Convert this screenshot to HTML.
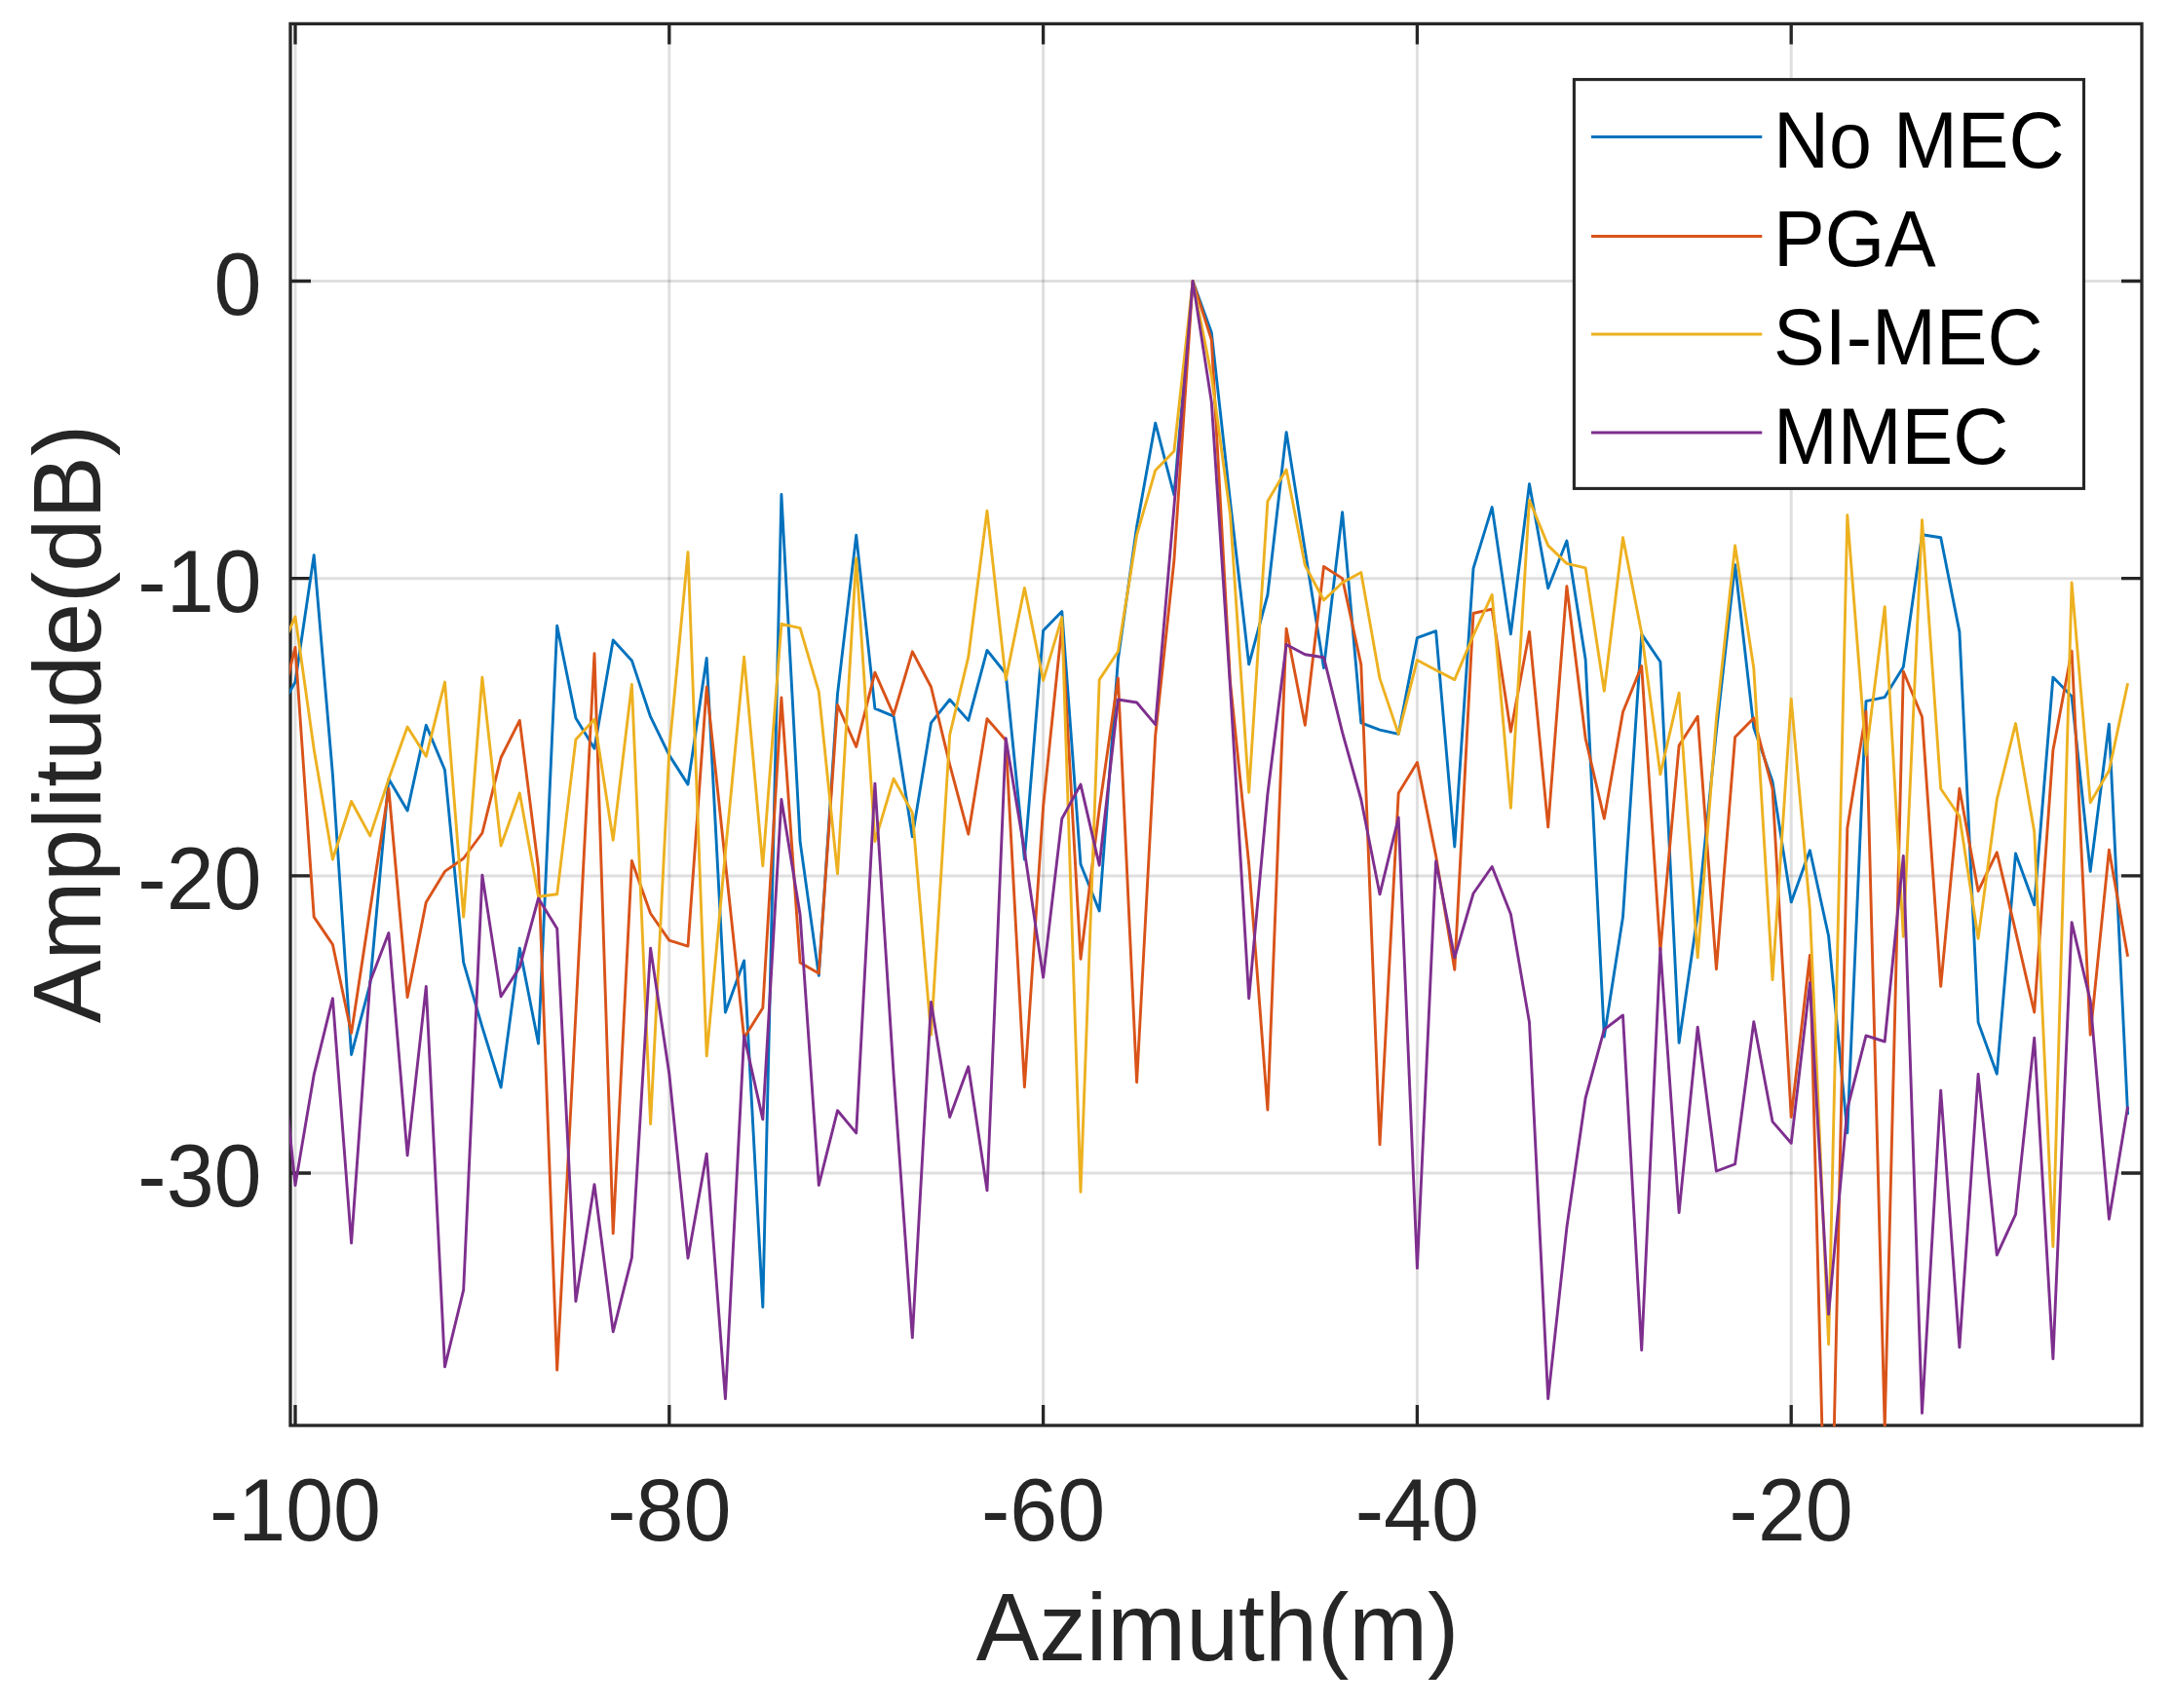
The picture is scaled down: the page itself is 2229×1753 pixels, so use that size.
<!DOCTYPE html>
<html><head><meta charset="utf-8"><title>Azimuth profile</title>
<style>html,body{margin:0;padding:0;background:#fff;overflow:hidden}svg{display:block}text{font-family:"Liberation Sans",sans-serif}</style></head><body>
<svg width="2229" height="1753" viewBox="0 0 2229 1753">
<rect x="0" y="0" width="2229" height="1753" fill="#fff"/>
<defs><clipPath id="ax"><rect x="297.0" y="23.4" width="1902.0" height="1440.6"/></clipPath></defs>
<path d="M303.0 24.4V1463.0" stroke="#262626" stroke-opacity="0.15" stroke-width="3.0" fill="none"/>
<path d="M686.8 24.4V1463.0" stroke="#262626" stroke-opacity="0.15" stroke-width="3.0" fill="none"/>
<path d="M1070.6 24.4V1463.0" stroke="#262626" stroke-opacity="0.15" stroke-width="3.0" fill="none"/>
<path d="M1454.4 24.4V1463.0" stroke="#262626" stroke-opacity="0.15" stroke-width="3.0" fill="none"/>
<path d="M1838.2 24.4V1463.0" stroke="#262626" stroke-opacity="0.15" stroke-width="3.0" fill="none"/>
<path d="M298.0 288.5H2198.0" stroke="#262626" stroke-opacity="0.15" stroke-width="3.0" fill="none"/>
<path d="M298.0 593.7H2198.0" stroke="#262626" stroke-opacity="0.15" stroke-width="3.0" fill="none"/>
<path d="M298.0 898.9H2198.0" stroke="#262626" stroke-opacity="0.15" stroke-width="3.0" fill="none"/>
<path d="M298.0 1204.0H2198.0" stroke="#262626" stroke-opacity="0.15" stroke-width="3.0" fill="none"/>
<path d="M303.0 1463.0v-21.0M303.0 24.4v21.0M686.8 1463.0v-21.0M686.8 24.4v21.0M1070.6 1463.0v-21.0M1070.6 24.4v21.0M1454.4 1463.0v-21.0M1454.4 24.4v21.0M1838.2 1463.0v-21.0M1838.2 24.4v21.0M298.0 288.5h21.0M2198.0 288.5h-21.0M298.0 593.7h21.0M2198.0 593.7h-21.0M298.0 898.9h21.0M2198.0 898.9h-21.0M298.0 1204.0h21.0M2198.0 1204.0h-21.0" stroke="#262626" stroke-width="3.3" fill="none"/>
<rect x="298.0" y="24.4" width="1900.0" height="1438.6" fill="none" stroke="#262626" stroke-width="3.3"/>
<g clip-path="url(#ax)" fill="none" stroke-linejoin="round" stroke-linecap="butt">
<polyline points="283.8,734.0 303.0,700.0 322.2,569.7 341.4,795.0 360.6,1082.5 379.8,1010.0 398.9,799.6 418.1,832.1 437.3,744.3 456.5,790.3 475.7,987.9 494.9,1054.2 514.1,1116.0 533.3,973.1 552.5,1071.0 571.7,642.3 590.9,736.9 610.0,768.2 629.2,657.0 648.4,677.9 667.6,735.7 686.8,775.1 706.0,805.1 725.2,675.5 744.4,1039.0 763.6,985.9 782.8,1341.5 801.9,507.5 821.1,863.6 840.3,1001.4 859.5,712.4 878.7,549.3 897.9,727.1 917.1,735.2 936.3,858.7 955.5,741.9 974.7,718.0 993.8,739.4 1013.0,667.4 1032.2,691.5 1051.4,882.0 1070.6,647.2 1089.8,627.5 1109.0,887.0 1128.2,935.0 1147.4,676.7 1166.6,540.5 1185.7,434.2 1204.9,508.0 1224.1,288.4 1243.3,341.3 1262.5,514.7 1281.7,681.9 1300.9,610.5 1320.1,443.6 1339.3,565.1 1358.5,685.5 1377.6,525.7 1396.8,741.9 1416.0,749.2 1435.2,753.4 1454.4,654.6 1473.6,647.7 1492.8,869.0 1512.0,583.3 1531.2,520.6 1550.4,650.9 1569.5,496.7 1588.7,603.7 1607.9,555.0 1627.1,676.7 1646.3,1064.1 1665.5,941.1 1684.7,650.9 1703.9,679.2 1723.1,1070.2 1742.2,938.7 1761.4,750.5 1780.6,579.6 1799.8,746.8 1819.0,802.1 1838.2,925.9 1857.4,872.8 1876.6,960.8 1895.8,1162.9 1915.0,719.7 1934.2,715.6 1953.3,684.6 1972.5,548.8 1991.7,551.8 2010.9,648.4 2030.1,1049.3 2049.3,1102.2 2068.5,876.0 2087.7,928.8 2106.9,695.1 2126.1,714.8 2145.2,894.3 2164.4,743.1 2183.6,1144.0" stroke="#0072BD" stroke-width="2.9"/>
<polyline points="283.8,742.0 303.0,664.4 322.2,941.1 341.4,969.4 360.6,1060.4 379.8,933.8 398.9,809.5 418.1,1023.5 437.3,925.9 456.5,894.4 475.7,881.0 494.9,855.0 514.1,777.5 533.3,739.4 552.5,890.7 571.7,1406.1 590.9,1040.0 610.0,670.6 629.2,1266.0 648.4,883.4 667.6,937.5 686.8,965.2 706.0,971.1 725.2,705.0 744.4,885.0 763.6,1065.3 782.8,1034.6 801.9,716.0 821.1,987.9 840.3,998.9 859.5,723.4 878.7,766.5 897.9,690.2 917.1,733.7 936.3,668.8 955.5,705.0 974.7,784.9 993.8,856.2 1013.0,737.7 1032.2,759.8 1051.4,1115.7 1070.6,828.0 1089.8,642.0 1109.0,984.2 1128.2,830.0 1147.4,695.9 1166.6,1110.8 1185.7,755.0 1204.9,575.0 1224.1,288.4 1243.3,348.7 1262.5,700.0 1281.7,887.0 1300.9,1139.1 1320.1,645.2 1339.3,744.3 1358.5,581.5 1377.6,593.6 1396.8,682.1 1416.0,1174.7 1435.2,813.9 1454.4,782.4 1473.6,878.3 1492.8,995.2 1512.0,629.5 1531.2,625.1 1550.4,751.0 1569.5,648.4 1588.7,848.8 1607.9,601.7 1627.1,757.8 1646.3,840.2 1665.5,730.8 1684.7,683.6 1703.9,975.6 1723.1,765.2 1742.2,735.2 1761.4,994.7 1780.6,756.6 1799.8,736.9 1819.0,809.5 1838.2,1146.5 1857.4,980.5 1876.6,1727.0 1895.8,850.1 1915.0,730.3 1934.2,1466.0 1953.3,689.0 1972.5,735.7 1991.7,1012.4 2010.9,809.5 2030.1,914.6 2049.3,874.8 2068.5,955.9 2087.7,1039.0 2106.9,770.1 2126.1,668.1 2145.2,1062.1 2164.4,872.3 2183.6,981.7" stroke="#D95319" stroke-width="2.9"/>
<polyline points="283.8,677.0 303.0,632.9 322.2,768.9 341.4,882.0 360.6,822.5 379.8,857.9 398.9,799.6 418.1,746.0 437.3,776.3 456.5,700.1 475.7,941.1 494.9,695.1 514.1,868.0 533.3,813.9 552.5,920.2 571.7,917.8 590.9,759.1 610.0,738.2 629.2,862.3 648.4,702.5 667.6,1153.6 686.8,770.0 706.0,566.6 725.2,1083.8 744.4,875.0 763.6,674.2 782.8,888.7 801.9,640.3 821.1,644.7 840.3,709.9 859.5,896.8 878.7,572.9 897.9,863.6 917.1,799.2 936.3,834.1 955.5,1062.1 974.7,754.2 993.8,674.2 1013.0,524.3 1032.2,697.6 1051.4,603.4 1070.6,698.3 1089.8,633.7 1109.0,1223.4 1128.2,697.6 1147.4,668.8 1166.6,549.1 1185.7,482.7 1204.9,463.0 1224.1,288.4 1243.3,385.6 1262.5,528.0 1281.7,813.2 1300.9,514.4 1320.1,482.0 1339.3,580.3 1358.5,616.0 1377.6,598.0 1396.8,587.5 1416.0,696.4 1435.2,753.4 1454.4,677.4 1473.6,687.8 1492.8,697.6 1512.0,652.1 1531.2,610.3 1550.4,829.2 1569.5,513.2 1588.7,559.9 1607.9,578.4 1627.1,582.8 1646.3,709.2 1665.5,551.8 1684.7,649.7 1703.9,794.7 1723.1,711.1 1742.2,982.9 1761.4,738.0 1780.6,559.9 1799.8,686.0 1819.0,1005.6 1838.2,717.3 1857.4,934.0 1876.6,1379.8 1895.8,528.7 1915.0,775.1 1934.2,622.6 1953.3,961.3 1972.5,533.6 1991.7,809.5 2010.9,837.8 2030.1,963.3 2049.3,820.5 2068.5,742.6 2087.7,853.7 2106.9,1279.5 2126.1,598.0 2145.2,823.7 2164.4,791.0 2183.6,701.3" stroke="#EDB120" stroke-width="2.9"/>
<polyline points="283.8,1029.7 303.0,1216.5 322.2,1102.9 341.4,1024.7 360.6,1275.8 379.8,1007.5 398.9,957.6 418.1,1185.8 437.3,1012.4 456.5,1402.9 475.7,1323.8 494.9,898.1 514.1,1022.8 533.3,992.8 552.5,922.0 571.7,952.9 590.9,1335.6 610.0,1215.6 629.2,1366.8 648.4,1290.6 667.6,973.1 686.8,1102.2 706.0,1291.3 725.2,1184.1 744.4,1435.6 763.6,1062.9 782.8,1148.9 801.9,820.5 821.1,938.7 840.3,1216.5 859.5,1139.8 878.7,1162.9 897.9,804.1 917.1,1103.0 936.3,1372.9 955.5,1028.4 974.7,1146.5 993.8,1094.8 1013.0,1221.9 1032.2,757.8 1051.4,873.4 1070.6,1003.1 1089.8,840.2 1109.0,805.1 1128.2,888.2 1147.4,718.0 1166.6,721.0 1185.7,743.6 1204.9,520.0 1224.1,288.4 1243.3,412.6 1262.5,705.0 1281.7,1024.7 1300.9,815.0 1320.1,661.5 1339.3,671.8 1358.5,674.7 1377.6,751.7 1396.8,820.5 1416.0,917.8 1435.2,839.0 1454.4,1301.6 1473.6,883.9 1492.8,982.9 1512.0,917.0 1531.2,889.5 1550.4,938.2 1569.5,1049.3 1588.7,1435.6 1607.9,1259.8 1627.1,1127.0 1646.3,1056.7 1665.5,1042.0 1684.7,1385.7 1703.9,973.1 1723.1,1244.6 1742.2,1054.2 1761.4,1202.0 1780.6,1194.7 1799.8,1048.8 1819.0,1151.1 1838.2,1173.3 1857.4,1008.8 1876.6,1348.8 1895.8,1138.1 1915.0,1062.9 1934.2,1069.0 1953.3,878.4 1972.5,1450.4 1991.7,1119.2 2010.9,1382.8 2030.1,1102.5 2049.3,1288.1 2068.5,1246.3 2087.7,1065.3 2106.9,1394.6 2126.1,946.6 2145.2,1027.2 2164.4,1251.2 2183.6,1135.7" stroke="#7E2F8E" stroke-width="2.9"/>
</g>
<text transform="translate(303.0 1581) scale(1 1.036)" font-size="88" fill="#262626" text-anchor="middle">-100</text>
<text transform="translate(686.8 1581) scale(1 1.036)" font-size="88" fill="#262626" text-anchor="middle">-80</text>
<text transform="translate(1070.6 1581) scale(1 1.036)" font-size="88" fill="#262626" text-anchor="middle">-60</text>
<text transform="translate(1454.4 1581) scale(1 1.036)" font-size="88" fill="#262626" text-anchor="middle">-40</text>
<text transform="translate(1838.2 1581) scale(1 1.036)" font-size="88" fill="#262626" text-anchor="middle">-20</text>
<text transform="translate(268.5 322.5) scale(1 1.036)" font-size="88" fill="#262626" text-anchor="end">0</text>
<text transform="translate(268.5 627.7) scale(1 1.036)" font-size="88" fill="#262626" text-anchor="end">-10</text>
<text transform="translate(268.5 932.9) scale(1 1.036)" font-size="88" fill="#262626" text-anchor="end">-20</text>
<text transform="translate(268.5 1238.0) scale(1 1.036)" font-size="88" fill="#262626" text-anchor="end">-30</text>
<text transform="translate(1249.5 1703.6) scale(1 1.018)" font-size="97" fill="#262626" text-anchor="middle">Azimuth(m)</text>
<text transform="translate(103.4 743) rotate(-90) scale(1 1.018)" font-size="97" fill="#262626" text-anchor="middle">Amplitude(dB)</text>
<rect x="1615.4" y="81.6" width="523.0999999999999" height="419.79999999999995" fill="#fff" stroke="#262626" stroke-width="3.1"/>
<path d="M1633 140.4H1808.3" stroke="#0072BD" stroke-width="3.0" fill="none"/>
<text transform="translate(1820 171.6) scale(1 1.036)" font-size="79" fill="#000">No MEC</text>
<path d="M1633 242.4H1808.3" stroke="#D95319" stroke-width="3.0" fill="none"/>
<text transform="translate(1820 273.0) scale(1 1.036)" font-size="79" fill="#000">PGA</text>
<path d="M1633 343.1H1808.3" stroke="#EDB120" stroke-width="3.0" fill="none"/>
<text transform="translate(1820 374.0) scale(1 1.036)" font-size="79" fill="#000">SI-MEC</text>
<path d="M1633 444.1H1808.3" stroke="#7E2F8E" stroke-width="3.0" fill="none"/>
<text transform="translate(1820 475.6) scale(1 1.036)" font-size="79" fill="#000">MMEC</text>
</svg></body></html>
